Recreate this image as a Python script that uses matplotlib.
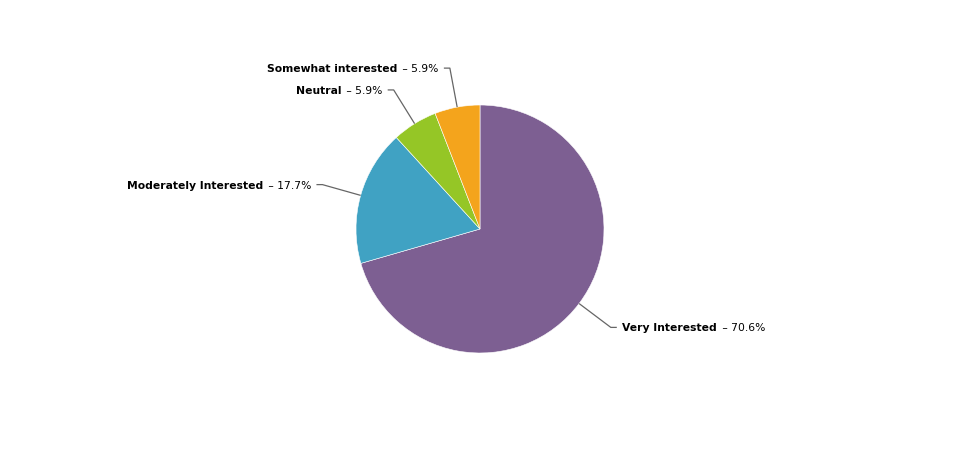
import numpy as np
import matplotlib
matplotlib.use("Agg")
import matplotlib.pyplot as plt

categories = ["Very Interested", "Moderately Interested", "Neutral", "Somewhat interested"]
values = [70.6, 17.7, 5.9, 5.9]
colors = ["#7D5F92", "#40A2C3", "#95C626", "#F4A41C"]

W, H = 960, 455
fig = plt.figure(figsize=(W / 100, H / 100), dpi=100)
ax = fig.add_axes([0, 0, 1, 1])

cx, cy, r = 480, H - 229, 124
wedges, _ = ax.pie(values, colors=colors, startangle=90, counterclock=False,
                   center=(cx, cy), radius=r,
                   wedgeprops=dict(edgecolor="white", linewidth=0.4))
ax.set_xlim(0, W)
ax.set_ylim(0, H)
ax.set_aspect("equal")
ax.axis("off")

fs = 7.75
renderer = fig.canvas.get_renderer()
total = sum(values)
start = 90.0
for name, v in zip(categories, values):
    span = 360.0 * v / total
    mid = np.deg2rad(start - span / 2)
    start -= span
    ex, ey = cx + r * np.cos(mid), cy + r * np.sin(mid)
    ax_, ay_ = cx + r * 1.32 * np.cos(mid), cy + r * 1.32 * np.sin(mid)
    side = 1 if np.cos(mid) >= 0 else -1
    hx = ax_ + side * 6
    ax.plot([ex, ax_, hx], [ey, ay_, ay_], color="#666666", lw=0.9,
            solid_capstyle="butt")
    tx = hx + side * 5
    val = f" \u2013 {v}%"
    if side > 0:
        t1 = ax.text(tx, ay_, name, fontsize=fs, fontweight="bold",
                     ha="left", va="center_baseline", color="black")
        bb = t1.get_window_extent(renderer)
        ax.text(bb.x1 + 2, ay_, val, fontsize=fs, ha="left",
                va="center_baseline", color="black")
    else:
        t2 = ax.text(tx, ay_, val, fontsize=fs, ha="right",
                     va="center_baseline", color="black")
        bb = t2.get_window_extent(renderer)
        ax.text(bb.x0 - 2, ay_, name, fontsize=fs, fontweight="bold",
                ha="right", va="center_baseline", color="black")

fig.savefig("out.png", dpi=100)
